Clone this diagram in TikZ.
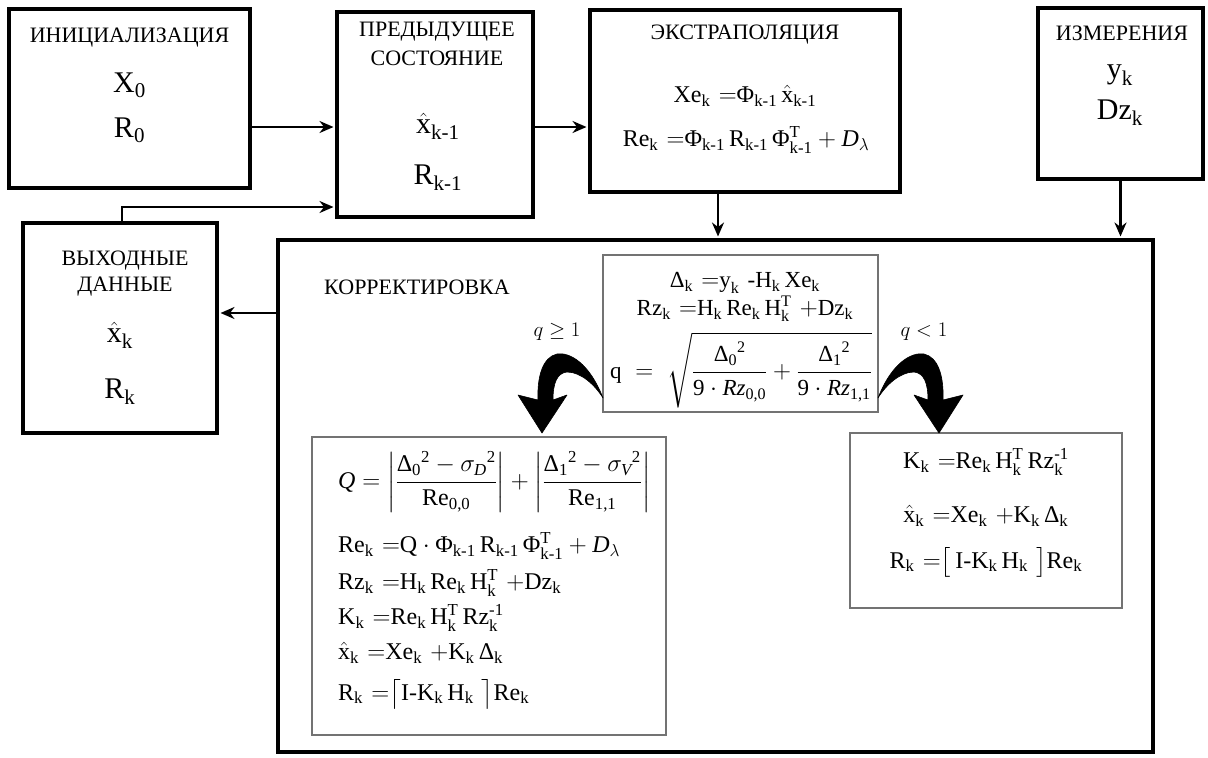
\documentclass[tikz,border=0pt]{standalone}
\usepackage{amsmath}
\usepackage{fontspec}
\setmainfont{Liberation Serif}
\usetikzlibrary{arrows.meta}
\newcommand{\GD}{\mbox{Δ}}
\newcommand{\GF}{\mbox{Φ}}
\newcommand{\sbk}{_{\text{k}}\mkern3mu}
\newcommand{\sbkm}{_{\text{k-1}}\mkern3mu}
\newcommand{\sbkT}{_{\text{k}}^{\text{T}}\mkern3mu}
\newcommand{\sbkI}{_{\text{k}}^{\text{-1}}}
\begin{document}
\begin{tikzpicture}[x=1pt,y=-1pt,
  blk/.style={draw, line width=4pt, inner sep=0pt},
  frm/.style={draw=black!55, line width=1.3pt, inner sep=0pt},
  ttl/.style={inner sep=0pt, font=\fontsize{22}{25}\selectfont},
  var/.style={inner sep=0pt, font=\fontsize{30}{34}\selectfont},
  eq/.style={inner sep=0pt, font=\fontsize{24}{28}\selectfont},
  eqs/.style={inner sep=0pt, font=\fontsize{23}{26}\selectfont},
  arr/.style={line width=2.5pt, -{Stealth[length=14pt,width=12pt]}, shorten >=1.5pt},
  bigarr/.style={fill=black, draw=black, line width=0.6pt, line join=round}]
\useasboundingbox (0,0) rectangle (1208,758);
\fill[white] (0,0) rectangle (1208,758);

% main boxes
\node[blk, minimum width=241pt, minimum height=179pt] (init) at (129.5,98.5) {};
\node[blk, minimum width=196pt, minimum height=205pt] (prev) at (435,114.5) {};
\node[blk, minimum width=310pt, minimum height=182pt] (extr) at (745,101) {};
\node[blk, minimum width=165pt, minimum height=171pt] (meas) at (1120.5,93.5) {};
\node[blk, minimum width=194pt, minimum height=210pt] (out) at (120,328) {};
\node[blk, minimum width=875pt, minimum height=512pt] (corr) at (715.5,496) {};

% formula boxes
\node[frm, minimum width=275pt, minimum height=157pt] (mid) at (740.5,333.5) {};
\node[frm, minimum width=354pt, minimum height=298pt] (lft) at (489,586) {};
\node[frm, minimum width=272pt, minimum height=175pt] (rgt) at (986,520.5) {};

% texts: initialisation
\node[ttl] (initT) at (129.5,38) {ИНИЦИАЛИЗАЦИЯ};
\node[var] (initX) at (129.5,85) {$\text{X}_{\text{0}}$};
\node[var] (initR) at (129.5,130) {$\text{R}_{\text{0}}$};

% previous state
\node[ttl] (prevT1) at (437,32) {ПРЕДЫДУЩЕЕ};
\node[ttl] (prevT2) at (437,58) {СОСТОЯНИЕ};
\node[var] (prevX) at (440,126) {$\hat{\text{x}}\sbkm$};
\node[var] (prevR) at (440,178) {$\text{R}\sbkm$};

% extrapolation
\node[ttl] (extrT) at (745,35) {ЭКСТРАПОЛЯЦИЯ};
\node[eq] (extrE1) at (747,96) {$\text{Xe}\sbk\,{=}\GF\sbkm\hat{\text{x}}\sbkm$};
\node[eq] (extrE2) at (746,140) {$\text{Re}\sbk\,{=}\GF\sbkm\text{R}\sbkm\GF^{\text{T}}_{\text{k-1}}+\mathit{D}_{\lambda}$};

% measurements
\node[ttl] (measT) at (1122,33) {ИЗМЕРЕНИЯ};
\node[var] (measY) at (1122,75) {$\text{y}\sbk$};
\node[var] (measD) at (1122,113) {$\text{Dz}\sbk$};

% output
\node[ttl] (outT1) at (125,261) {ВЫХОДНЫЕ};
\node[ttl] (outT2) at (125,287) {ДАННЫЕ};
\node[var] (outX) at (122,335) {$\hat{\text{x}}\sbk$};
\node[var] (outR) at (122,392) {$\text{R}\sbk$};

% correction
\node[ttl] (corrT) at (417,287) {КОРРЕКТИРОВКА};

% middle formulas
\node[eqs] (midE1) at (747,283) {$\GD\sbk\,{=}\text{y}\sbk\,\text{-H}\sbk\text{Xe}\sbk$};
\node[eqs] (midE2) at (747,309) {$\text{Rz}\sbk\,{=}\text{H}\sbk\text{Re}\sbk\text{H}\sbkT\,{+}\text{Dz}\sbk$};
\node[eqs] (midE3) at (741,370) {$\text{q}\;=\;\sqrt{\dfrac{\GD_{\text{0}}{}^{\text{2}}}{\text{9}\cdot \mathit{Rz}_{\text{0,0}}}+\dfrac{\GD_{\text{1}}{}^{\text{2}}}{\text{9}\cdot \mathit{Rz}_{\text{1,1}}}}$};

% left formulas
\node[eq, anchor=west] (lE1) at (338,482) {$\mathit{Q}=\left|\dfrac{\GD_{\text{0}}{}^{\text{2}}-\sigma_{\mathit{D}}{}^{\text{2}}}{\text{Re}_{\text{0,0}}}\right|+\left|\dfrac{\GD_{\text{1}}{}^{\text{2}}-\sigma_{\mathit{V}}{}^{\text{2}}}{\text{Re}_{\text{1,1}}}\right|$};
\node[eq, anchor=west] (lE2) at (338,546) {$\text{Re}\sbk\,{=}\text{Q}\cdot\GF\sbkm\text{R}\sbkm\GF^{\text{T}}_{\text{k-1}}+\mathit{D}_{\lambda}$};
\node[eq, anchor=west] (lE3) at (338,583) {$\text{Rz}\sbk\,{=}\text{H}\sbk\text{Re}\sbk\text{H}\sbkT\,{+}\text{Dz}\sbk$};
\node[eq, anchor=west] (lE4) at (338,618) {$\text{K}\sbk\,{=}\text{Re}\sbk\text{H}\sbkT\text{Rz}\sbkI$};
\node[eq, anchor=west] (lE5) at (338,653) {$\hat{\text{x}}\sbk\,{=}\text{Xe}\sbk\,{+}\text{K}\sbk\GD\sbk$};
\node[eq, anchor=west] (lE6) at (338,694) {$\text{R}\sbk\,{=}\big\lceil\text{I-K}\sbk\text{H}\sbk\,\big\rceil\text{Re}\sbk$};

% right formulas
\node[eq] (rE1) at (986,462) {$\text{K}\sbk\,{=}\text{Re}\sbk\text{H}\sbkT\text{Rz}\sbkI$};
\node[eq] (rE2) at (988,516) {$\hat{\text{x}}\sbk\,{=}\text{Xe}\sbk\,{+}\text{K}\sbk\GD\sbk$};
\node[eq] (rE3) at (988,562) {$\text{R}\sbk\,{=}\big[\,\text{I-K}\sbk\text{H}\sbk\,\big]\text{Re}\sbk$};

% condition labels
\node[ttl] (qge) at (557,332) {$q\geq 1$};
\node[ttl] (qlt) at (924,332) {$q<1$};

% connectors
\coordinate (yA) at (0,127);
\coordinate (fb) at (122,207);
\coordinate (xE) at (718,0);
\coordinate (yC) at (0,313);
\draw[arr] (init.east |- yA) -- (prev.west |- yA);
\draw[arr] (prev.east |- yA) -- (extr.west |- yA);
\draw[arr] (out.north -| fb) |- (prev.west |- fb);
\draw[arr] (extr.south -| xE) -- (corr.north -| xE);
\draw[arr] (meas.south) -- (corr.north -| meas.south);
\draw[arr] (corr.west |- yC) -- (out.east |- yC);

% curved thick arrows
\draw[bigarr] (878,398) .. controls (892,362) and (912,352) .. (924,354)
  .. controls (938,357) and (944,376) .. (943,400)
  -- (963,395) -- (939,433) -- (914,395) -- (928,400)
  .. controls (928,383) and (924,373) .. (914,372)
  .. controls (900,372) and (886,385) .. (878,398) -- cycle;
\draw[bigarr] (603,398) .. controls (589,362) and (569,352) .. (557,354)
  .. controls (543,357) and (537,376) .. (538,400)
  -- (518,395) -- (542,433) -- (567,395) -- (553,400)
  .. controls (553,383) and (557,373) .. (567,372)
  .. controls (581,372) and (595,385) .. (603,398) -- cycle;
\end{tikzpicture}
\end{document}
